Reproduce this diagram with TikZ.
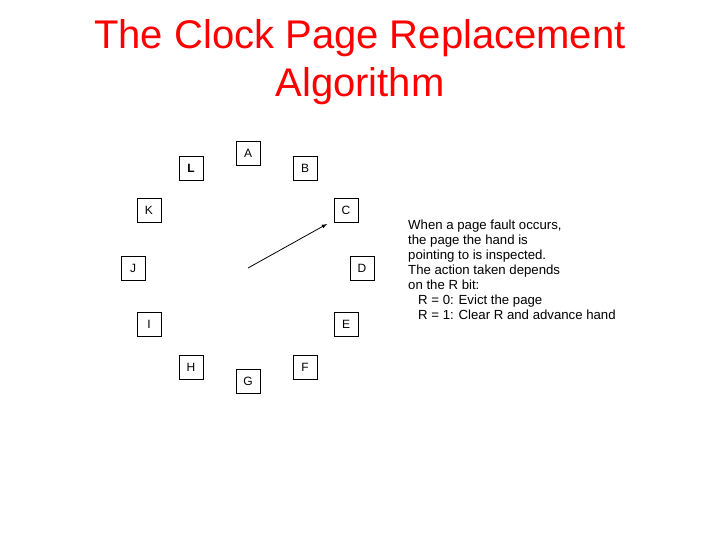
\documentclass[tikz,border=0pt]{standalone}
\usepackage{fontspec}
\setmainfont{Liberation Sans}
\begin{document}
\begin{tikzpicture}[x=1pt,y=-1pt,
  pg/.style={draw,thick,minimum size=24pt,inner sep=0pt,font=\fontsize{12}{12}\selectfont},
  ttl/.style={text=red,font=\fontsize{40}{40}\selectfont},
  desc/.style={anchor=north west,align=left,inner sep=0pt,font=\fontsize{13.2}{15}\selectfont}]
\useasboundingbox (0,0) rectangle (720,540);
\node[ttl] (t1) at (360,38) {The Clock Page Replacement};
\node[ttl] (t2) at (360,86) {Algorithm};
\node[pg] (A) at (248,153) {A};
\node[pg] (B) at (305,168) {B};
\node[pg] (C) at (346,210) {C};
\node[pg] (D) at (362,268) {D};
\node[pg] (E) at (346,324) {E};
\node[pg] (F) at (305,367) {F};
\node[pg] (G) at (248,381) {G};
\node[pg] (H) at (191,367) {H};
\node[pg] (I) at (149,324) {I};
\node[pg] (J) at (133,268) {J};
\node[pg] (K) at (149,210) {K};
\node[pg] (L) at (191,168) {\textbf{L}};
\coordinate (hub) at (248,268);
\coordinate (tip) at (327,224);
\draw[-latex,thick] (hub) -- (tip);
\node[desc] (txt) at (408,220) {When a page fault occurs,\\the page the hand is\\pointing to is inspected.\\The action taken depends\\on the R bit:\\\hspace{10pt}R = 0: Evict the page\\\hspace{10pt}R = 1: Clear R and advance hand};
\end{tikzpicture}
\end{document}
